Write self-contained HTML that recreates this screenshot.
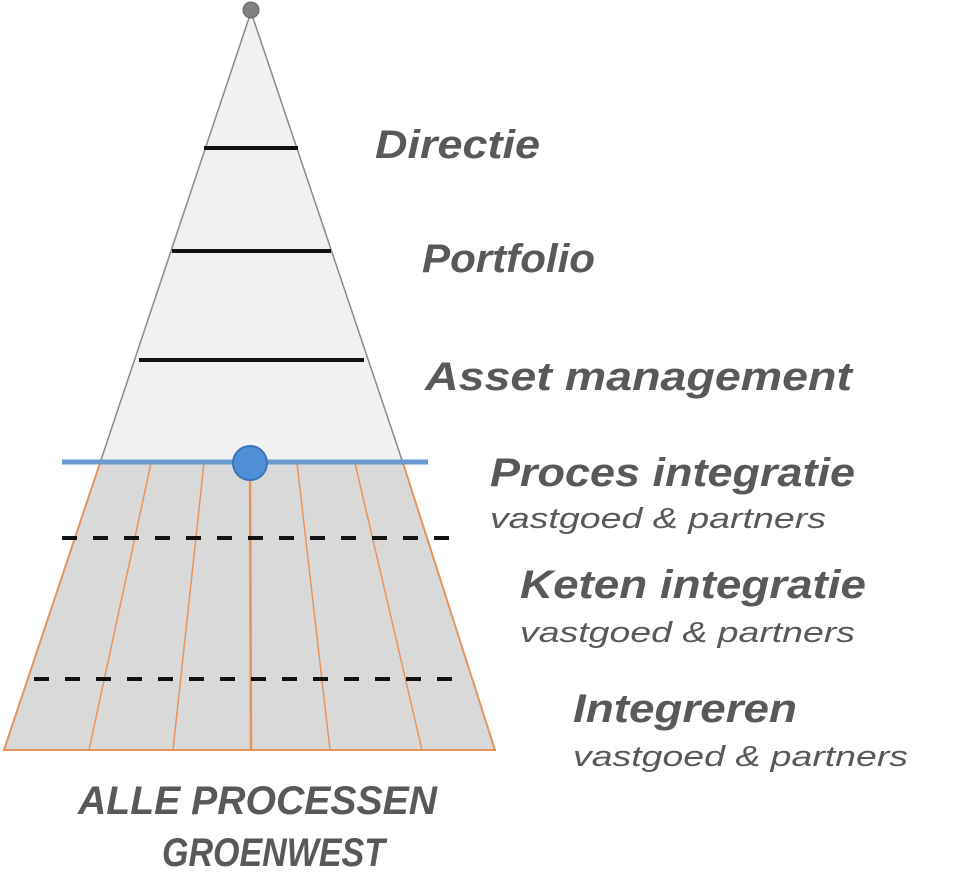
<!DOCTYPE html>
<html><head><meta charset="utf-8"><style>
html,body{margin:0;padding:0;background:#fff;}
svg{display:block}
text{font-family:"Liberation Sans",sans-serif;fill:#595959;}
.h{font-weight:bold;font-style:italic;font-size:40px;}
.s{font-style:italic;font-size:29px;}
</style></head><body>
<svg width="960" height="890" viewBox="0 0 960 890" xmlns="http://www.w3.org/2000/svg">
<polygon points="251,12 100,463 403,463" fill="#f1f1f1" stroke="#8a8a8a" stroke-width="1.5"/>
<polygon points="100,463 403,463 495,750 4,750" fill="#d9d9d9" stroke="#e8935a" stroke-width="2"/>
<g stroke="#e8935a" stroke-width="1.5">
<line x1="151" y1="463" x2="89" y2="750"/>
<line x1="204" y1="463" x2="173" y2="750"/>
<line x1="250" y1="463" x2="251" y2="750" stroke-width="2.5"/>
<line x1="297" y1="463" x2="330" y2="750"/>
<line x1="355" y1="463" x2="422" y2="750"/>
</g>
<g stroke="#111" stroke-width="4">
<line x1="204" y1="148" x2="298" y2="148"/>
<line x1="172" y1="251" x2="331" y2="251"/>
<line x1="139" y1="360" x2="364" y2="360"/>
</g>
<g stroke="#111" stroke-width="4" stroke-dasharray="15,16">
<line x1="62" y1="538" x2="452" y2="538"/>
<line x1="34" y1="679" x2="456" y2="679"/>
</g>
<line x1="62" y1="462" x2="428" y2="462" stroke="#6a9bd0" stroke-width="5"/>
<circle cx="250" cy="463" r="17" fill="#4f8fd6" stroke="#3a74b8" stroke-width="2"/>
<circle cx="251" cy="10" r="8" fill="#808080" stroke="#666" stroke-width="1"/>
<text class="h" x="375" y="158" textLength="165" lengthAdjust="spacingAndGlyphs">Directie</text>
<text class="h" x="422" y="272" textLength="173" lengthAdjust="spacingAndGlyphs">Portfolio</text>
<text class="h" x="425" y="390" textLength="427" lengthAdjust="spacingAndGlyphs">Asset management</text>
<text class="h" x="490" y="486" textLength="365" lengthAdjust="spacingAndGlyphs">Proces integratie</text>
<text class="s" x="490" y="528" textLength="336" lengthAdjust="spacingAndGlyphs">vastgoed &amp; partners</text>
<text class="h" x="520" y="598" textLength="346" lengthAdjust="spacingAndGlyphs">Keten integratie</text>
<text class="s" x="520" y="642" textLength="335" lengthAdjust="spacingAndGlyphs">vastgoed &amp; partners</text>
<text class="h" x="573" y="722" textLength="224" lengthAdjust="spacingAndGlyphs">Integreren</text>
<text class="s" x="573" y="766" textLength="335" lengthAdjust="spacingAndGlyphs">vastgoed &amp; partners</text>
<text class="h" x="78" y="814" textLength="359" lengthAdjust="spacingAndGlyphs">ALLE PROCESSEN</text>
<text class="h" x="162" y="866" textLength="223" lengthAdjust="spacingAndGlyphs">GROENWEST</text>
</svg>
</body></html>
